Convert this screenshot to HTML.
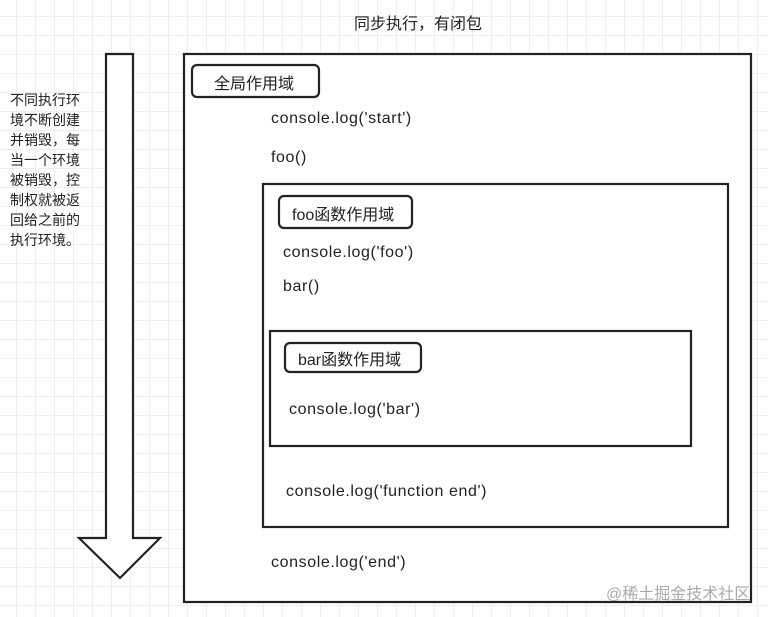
<!DOCTYPE html>
<html><head><meta charset="utf-8"><style>
body{margin:0;width:768px;height:617px;overflow:hidden;background:#fff;
background-image:linear-gradient(#efefef 1px,transparent 1px),linear-gradient(90deg,#efefef 1px,transparent 1px);
background-size:19px 19px;background-position:-3px -3px;
font-family:"Liberation Sans","Noto Sans CJK SC",sans-serif;color:#222;}
.t{position:absolute;font-size:16px;white-space:nowrap;}
.c{letter-spacing:0.6px}
</style></head><body>
<svg width="768" height="617" style="position:absolute;left:0;top:0">
<polygon points="106,54 133,54 133,538 160,538 120,578 79,538 106,538" fill="#fff" stroke="#222" stroke-width="2.2"/>
<rect x="184" y="54" width="567" height="548" fill="#fff" stroke="#222" stroke-width="2.2"/>
<rect x="263" y="184" width="465" height="343" fill="#fff" stroke="#222" stroke-width="2.2"/>
<rect x="270" y="331" width="421" height="115" fill="#fff" stroke="#222" stroke-width="2.2"/>
<rect x="192" y="65" width="127" height="32" rx="5" fill="#fff" stroke="#222" stroke-width="2.2"/>
<rect x="279" y="196" width="133" height="32" rx="5" fill="#fff" stroke="#222" stroke-width="2.2"/>
<rect x="285" y="343" width="136" height="29" rx="5" fill="#fff" stroke="#222" stroke-width="2.2"/>
</svg>
<div class="t" style="left:354px;top:10px">同步执行，有闭包</div>
<div class="t" style="left:10px;top:90px;font-size:14px;line-height:20px;white-space:normal;width:75px">不同执行环境不断创建并销毁，每当一个环境被销毁，控制权就被返回给之前的执行环境。</div>
<div class="t" style="left:214px;top:70px">全局作用域</div>
<div class="t c" style="left:271px;top:110px">console.log('start')</div>
<div class="t c" style="left:271px;top:149px">foo()</div>
<div class="t" style="left:292px;top:201px">foo函数作用域</div>
<div class="t c" style="left:283px;top:244px">console.log('foo')</div>
<div class="t c" style="left:283px;top:278px">bar()</div>
<div class="t" style="left:298px;top:346px">bar函数作用域</div>
<div class="t c" style="left:289px;top:401px">console.log('bar')</div>
<div class="t c" style="left:286px;top:483px">console.log('function end')</div>
<div class="t c" style="left:271px;top:554px">console.log('end')</div>
<div class="t" style="left:606px;top:580px;color:#aaa">@稀土掘金技术社区</div>
</body></html>
